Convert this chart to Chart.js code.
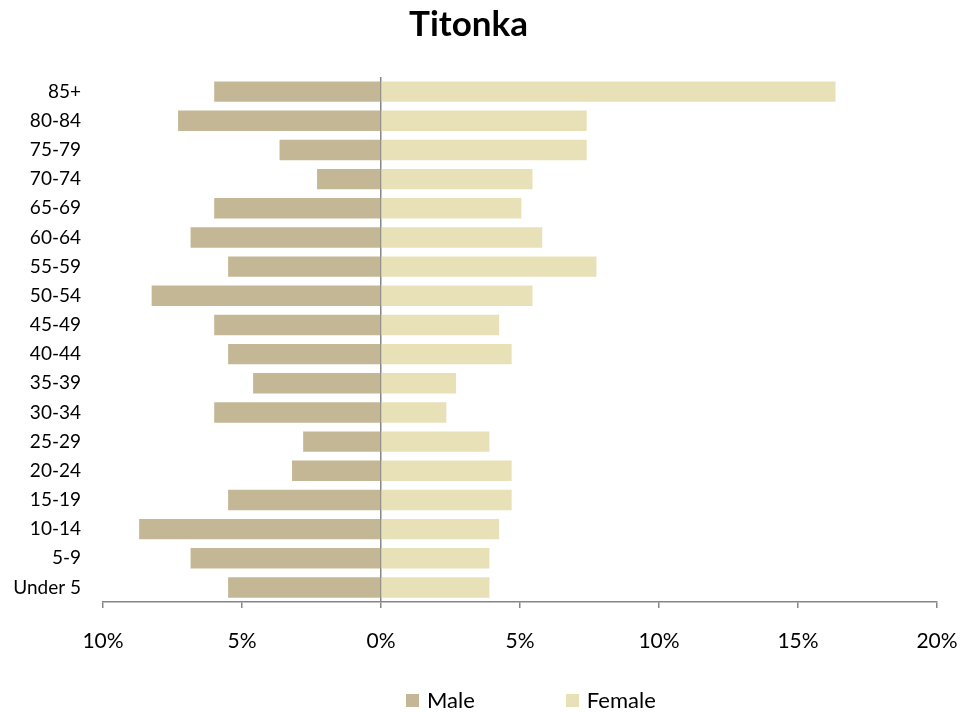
<!DOCTYPE html>
<html>
<head>
<meta charset="utf-8">
<title>Titonka</title>
<script src="https://cdn.jsdelivr.net/npm/chart.js@4.4.1/dist/chart.umd.min.js"></script>
<style>
  html, body { margin: 0; padding: 0; background: #fff; }
  #wrap { position: relative; width: 979px; height: 713px; }
  #legend { position: absolute; left: 406px; top: 687px; display: flex; font: 22px/26px Lato, sans-serif; color: #000; }
  #legend .item { display: flex; align-items: center; margin-right: 91px; }
  #legend .box { width: 13px; height: 13px; margin-right: 8px; }
</style>
</head>
<body>
<div id="wrap">
  <canvas id="chart" width="979" height="713"></canvas>
  <div id="legend"></div>
</div>
<script>
  "use strict";

  // Grupos de edad, de arriba hacia abajo
  const grupos = ["85+", "80-84", "75-79", "70-74", "65-69", "60-64", "55-59", "50-54",
    "45-49", "40-44", "35-39", "30-34", "25-29", "20-24", "15-19", "10-14", "5-9", "Under 5"];

  // Porcentajes (hombres van a la izquierda, por eso negativos)
  const hombres = [-6.0, -7.3, -3.65, -2.3, -6.0, -6.85, -5.5, -8.25,
    -6.0, -5.5, -4.6, -6.0, -2.8, -3.2, -5.5, -8.7, -6.85, -5.5];
  const mujeres = [16.35, 7.4, 7.4, 5.45, 5.05, 5.8, 7.75, 5.45,
    4.25, 4.7, 2.7, 2.35, 3.9, 4.7, 4.7, 4.25, 3.9, 3.9];

  // Marcas del eje x
  const marcasX = [-10, -5, 0, 5, 10, 15, 20];

  const colorHombres = "#c4b796";
  const colorMujeres = "#e8e1b8";
  const gris = "#868686";

  // Leyenda en HTML (mas espacio entre items que la de Chart.js)
  const leyendaHtml = {
    id: "leyendaHtml",
    afterUpdate(chart) {
      const cont = document.getElementById("legend");
      cont.innerHTML = "";
      chart.data.datasets.forEach((ds) => {
        const item = document.createElement("div");
        item.className = "item";
        const caja = document.createElement("span");
        caja.className = "box";
        caja.style.background = ds.backgroundColor;
        const txt = document.createElement("span");
        txt.textContent = ds.label;
        item.appendChild(caja);
        item.appendChild(txt);
        cont.appendChild(item);
      });
    }
  };

  new Chart(document.getElementById("chart"), {
    type: "bar",
    data: {
      labels: grupos,
      datasets: [
        { label: "Male", data: hombres, backgroundColor: colorHombres },
        { label: "Female", data: mujeres, backgroundColor: colorMujeres }
      ]
    },
    options: {
      indexAxis: "y",
      responsive: false,
      animation: false,
      barPercentage: 0.7,
      categoryPercentage: 1,
      layout: { padding: { left: 0, right: 42, top: 0, bottom: 50 } },
      plugins: {
        legend: { display: false },
        tooltip: { enabled: false },
        title: {
          display: true,
          text: "Titonka",
          color: "#000",
          font: { family: "Lato", size: 35, weight: "bold", lineHeight: 1.2 },
          padding: { top: 4, bottom: 31 }
        }
      },
      scales: {
        x: {
          stacked: true,
          min: -10,
          max: 20,
          afterBuildTicks(scale) {
            scale.ticks = marcasX.map((v) => ({ value: v }));
          },
          afterFit(scale) { scale.height = 61; },
          border: { display: true, color: gris, width: 1.5 },
          grid: {
            color: (ctx) => (ctx.tick && ctx.tick.value === 0 ? gris : "rgba(0,0,0,0)"),
            lineWidth: 1.5,
            tickColor: gris,
            tickLength: 6,
            drawTicks: true
          },
          ticks: {
            color: "#000",
            font: { family: "Lato", size: 21 },
            padding: 21,
            maxRotation: 0,
            callback: (v) => Math.abs(v) + "%"
          }
        },
        y: {
          stacked: true,
          afterFit(scale) { scale.width = 103; },
          border: { display: false },
          grid: { display: false, drawTicks: false },
          ticks: {
            color: "#000",
            font: { family: "Lato", size: 19 },
            padding: 22,
            autoSkip: false
          }
        }
      }
    },
    plugins: [leyendaHtml]
  });
</script>
</body>
</html>
